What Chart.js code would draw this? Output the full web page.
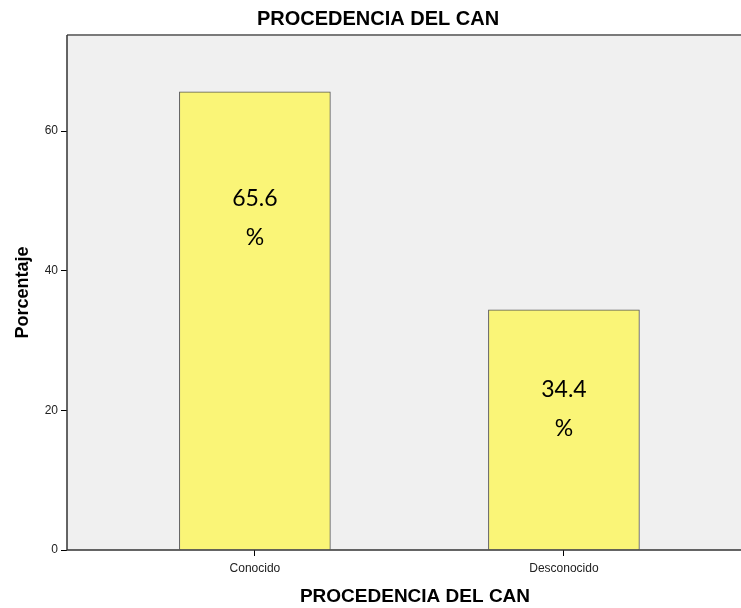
<!DOCTYPE html>
<html>
<head>
<meta charset="utf-8">
<script src="https://cdn.jsdelivr.net/npm/chart.js@4"></script>
<style>
  html, body { margin: 0; padding: 0; background: #fff; }
  #wrap { width: 741px; height: 608px; }
</style>
</head>
<body>
<div id="wrap"><canvas id="chart" width="741" height="608"></canvas></div>
<script>
// Data
const categories = ['Conocido', 'Desconocido'];
const percentages = [65.6, 34.4];
const yTicks = [0, 20, 40, 60];
const yMax = 73.75;
const chartTitle = 'PROCEDENCIA DEL CAN';
const xTitle = 'PROCEDENCIA DEL CAN';
const yTitle = 'Porcentaje';

// Background + borders of the plot area
const plotFrame = {
  id: 'plotFrame',
  beforeDatasetsDraw(chart) {
    const { ctx, chartArea: a } = chart;
    ctx.save();
    ctx.fillStyle = '#f0f0f0';
    ctx.fillRect(a.left, a.top, a.right - a.left, a.bottom - a.top);
    ctx.restore();
  },
  afterDraw(chart) {
    const { ctx, chartArea: a } = chart;
    ctx.save();
    ctx.strokeStyle = '#7a7a7a';
    ctx.lineWidth = 2;
    ctx.beginPath();
    ctx.moveTo(a.left, a.top);
    ctx.lineTo(a.right, a.top);
    ctx.stroke();
    ctx.strokeStyle = '#333';
    ctx.lineWidth = 1.5;
    ctx.beginPath();
    ctx.moveTo(a.left, a.top);
    ctx.lineTo(a.left, a.bottom);
    ctx.lineTo(a.right, a.bottom);
    ctx.stroke();
    ctx.restore();
  }
};

// Titles (SPSS places them a bit off the canvas centre)
const titles = {
  id: 'titles',
  afterDraw(chart) {
    const { ctx, chartArea: a } = chart;
    ctx.save();
    ctx.fillStyle = '#000';
    ctx.textAlign = 'center';
    ctx.textBaseline = 'middle';
    ctx.font = 'bold 20px "Liberation Sans"';
    ctx.fillText(chartTitle, 378, 19);
    ctx.font = 'bold 19px "Liberation Sans"';
    ctx.fillText(xTitle, 415, 597);
    ctx.translate(23, (a.top + a.bottom) / 2);
    ctx.rotate(-Math.PI / 2);
    ctx.font = 'bold 18px "Liberation Sans"';
    ctx.fillText(yTitle, 0, 0);
    ctx.restore();
  }
};

// Value labels inside the bars ("65.6" / "%")
const barLabels = {
  id: 'barLabels',
  afterDatasetsDraw(chart, args, opts) {
    const { ctx } = chart;
    const meta = chart.getDatasetMeta(0);
    ctx.save();
    ctx.font = '23px Lato';
    ctx.fillStyle = '#000';
    ctx.textAlign = 'center';
    ctx.textBaseline = 'middle';
    meta.data.forEach((bar, i) => {
      const h = bar.base - bar.y;
      const y = bar.y + h * opts.pos[i];
      ctx.fillText(percentages[i].toFixed(1), bar.x, y);
      ctx.fillText('%', bar.x, y + 39);
    });
    ctx.restore();
  }
};

new Chart(document.getElementById('chart'), {
  type: 'bar',
  data: {
    datasets: [{
      data: percentages.map((v, i) => ({ x: i, y: v })),
      backgroundColor: '#faf577',
      borderColor: '#555',
      borderWidth: 1,
      barThickness: 151
    }]
  },
  plugins: [plotFrame, barLabels, titles],
  options: {
    responsive: false,
    animation: false,
    layout: { padding: { left: 0, right: 0, top: 35, bottom: 0 } },
    plugins: {
      legend: { display: false },
      tooltip: { enabled: false },
      title: { display: false },
      barLabels: { pos: [0.233, 0.333] }
    },
    scales: {
      x: {
        type: 'linear',
        offset: false,
        min: -0.608,
        max: 1.573,
        afterBuildTicks: s => { s.ticks = categories.map((c, i) => ({ value: i })); },
        afterFit: s => { s.height = 58; },
        border: { display: false },
        grid: { offset: false, drawOnChartArea: false, drawTicks: true, tickLength: 6, color: '#000' },
        ticks: {
          callback: v => categories[v],
          color: '#222',
          font: { family: 'Liberation Sans', size: 12 },
          padding: 5,
          maxRotation: 0
        }
      },
      y: {
        min: 0,
        max: yMax,
        afterBuildTicks: s => { s.ticks = yTicks.map(v => ({ value: v })); },
        afterFit: s => { s.width = 67; },
        border: { display: false },
        grid: { drawOnChartArea: false, drawTicks: true, tickLength: 6, color: '#000' },
        ticks: {
          color: '#222',
          font: { family: 'Liberation Sans', size: 12 },
          padding: 3
        }
      }
    }
  }
});
</script>
</body>
</html>
